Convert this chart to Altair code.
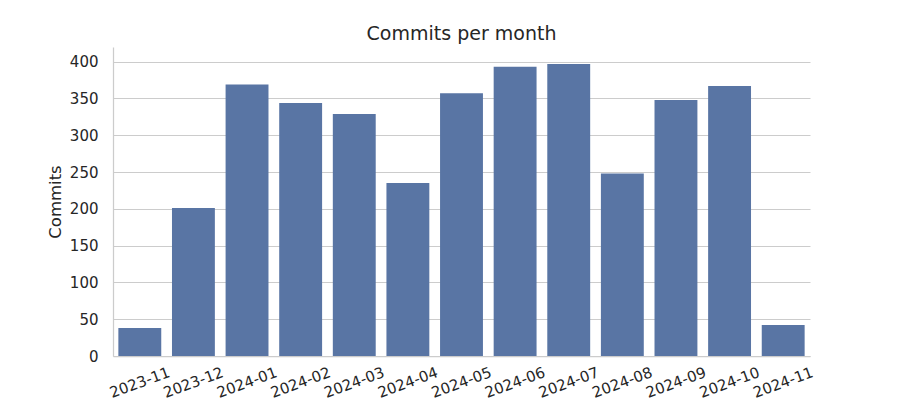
import altair as alt
import pandas as pd

months = ["2023-11", "2023-12", "2024-01", "2024-02", "2024-03", "2024-04", "2024-05",
          "2024-06", "2024-07", "2024-08", "2024-09", "2024-10", "2024-11"]
commits = [38, 201, 369, 344, 329, 235, 357, 393, 397, 248, 348, 367, 42]
y_ticks = [0, 50, 100, 150, 200, 250, 300, 350, 400]

df = pd.DataFrame({"month": months, "commits": commits})

FONT = "DejaVu Sans"
TXT = "#262626"

chart = alt.Chart(df).mark_bar(color="#5975a4").encode(
    x=alt.X("month:N", sort=months, title=None,
            scale=alt.Scale(paddingInner=0.2, paddingOuter=0.1),
            axis=alt.Axis(labelAngle=-20, labelAlign="center", labelBaseline="middle",
                          labelPadding=26, ticks=False, grid=False,
                          labelFont=FONT, labelFontSize=15, labelColor=TXT,
                          domainColor="#cccccc", domainWidth=1.25)),
    y=alt.Y("commits:Q", title="Commits",
            scale=alt.Scale(domain=[0, 420], nice=False),
            axis=alt.Axis(values=y_ticks, ticks=False, labelPadding=15,
                          labelFont=FONT, labelFontSize=15, labelColor=TXT,
                          titleFont=FONT, titleFontSize=16.5, titleColor=TXT,
                          titleFontWeight="normal", titlePadding=6,
                          gridColor="#cccccc", gridWidth=1,
                          domainColor="#cccccc", domainWidth=1.25)),
).properties(
    width=697, height=309,
    title=alt.TitleParams("Commits per month", font=FONT, fontSize=19,
                          fontWeight="normal", color=TXT, offset=3),
    autosize=alt.AutoSizeParams(type="none"),
    padding={"left": 113, "top": 47, "right": 90, "bottom": 44},
).configure_view(stroke=None)

chart.save("out.html", embed_options={"renderer": "svg", "actions": False})
